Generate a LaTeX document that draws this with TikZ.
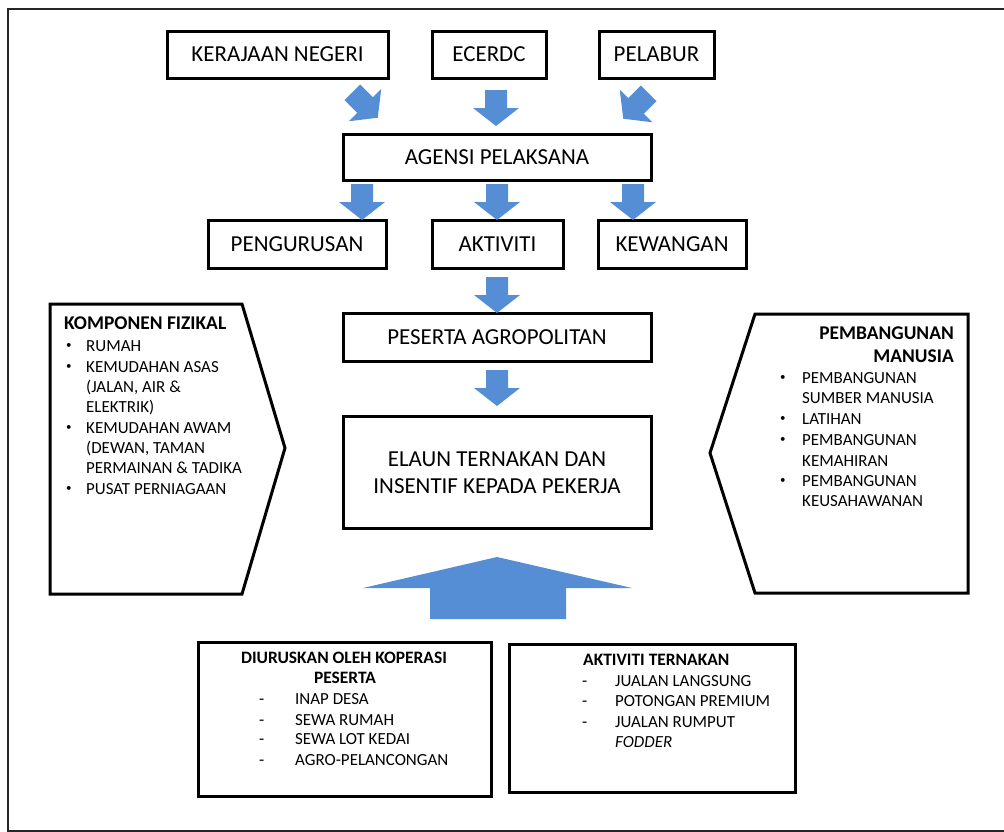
\documentclass[tikz,border=0pt]{standalone}
\usepackage{fontspec}
\setmainfont{Carlito}
\usetikzlibrary{calc}
\definecolor{ablue}{RGB}{85,142,213}
\newcommand\blockarrow[3]{\fill[ablue, shift={(#1,#2)}, rotate=#3] (-11,-18) -- (11,-18) -- (11,0) -- (23,0) -- (0,18) -- (-23,0) -- (-11,0) -- cycle;}
\begin{document}
\begin{tikzpicture}[x=1bp,y=-1bp,
  box/.style={draw, line width=3bp, rectangle, inner sep=0pt, font=\fontsize{23}{27}\selectfont, text=black},
  txt/.style={font=\fontsize{17}{20.5}\selectfont, inner sep=0pt, anchor=base west},
  bul/.style={font=\fontsize{11}{13}\selectfont, inner sep=0pt, anchor=base west},
  head/.style={font=\bfseries\fontsize{17.5}{21}\selectfont, inner sep=0pt},
  bighead/.style={font=\bfseries\fontsize{19.5}{23}\selectfont, inner sep=0pt},
  pentagon/.style={draw, line width=3bp, line join=miter}]
\useasboundingbox (0,0) rectangle (1004,832);
\draw[line width=2.5bp, black!85] (8,9) rectangle (1020,831);

% top boxes
\node[box, minimum width=221bp, minimum height=47bp] (ker) at (277.5,54.5) {KERAJAAN NEGERI};
\node[box, minimum width=114bp, minimum height=47bp] (ecer) at (489,54.5) {ECERDC};
\node[box, minimum width=115bp, minimum height=47bp] (pel) at (656.5,54.5) {PELABUR};
\node[box, minimum width=308bp, minimum height=46bp] (agensi) at (497,157) {AGENSI PELAKSANA};
\node[box, minimum width=178bp, minimum height=48bp] (peng) at (297,244) {PENGURUSAN};
\node[box, minimum width=131bp, minimum height=48bp] (akt) at (497.5,244) {AKTIVITI};
\node[box, minimum width=148bp, minimum height=48bp] (kew) at (672,244) {KEWANGAN};
\node[box, minimum width=308bp, minimum height=48bp] (pes) at (497,337) {PESERTA AGROPOLITAN};
\node[box, minimum width=308bp, minimum height=112bp] (elaun) at (497,472) {};
\node[font=\fontsize{23}{27}\selectfont, inner sep=0pt, anchor=base] (el1) at (497,466) {ELAUN TERNAKAN DAN};
\node[font=\fontsize{23}{27}\selectfont, inner sep=0pt, anchor=base] (el2) at (497,493) {INSENTIF KEPADA PEKERJA};

% block arrows
\blockarrow{365}{105}{45}
\blockarrow{496}{108}{0}
\blockarrow{636}{106}{-45}
\blockarrow{362}{202}{0}
\blockarrow{497}{202}{0}
\blockarrow{633}{202}{0}
\blockarrow{497}{295}{0}
\blockarrow{497}{388}{0}
\fill[ablue] (363,588) -- (497,557) -- (632,588) -- (566,588) -- (566,619) -- (430,619) -- (430,588) -- cycle;

% left pentagon
\draw[pentagon] (50,304) -- (242,304) -- (285,448) -- (242,594) -- (50,594) -- cycle;
\node[bighead, anchor=base west] (lh) at (64,329) {KOMPONEN FIZIKAL};
\node[txt] (lt1) at (86,351) {RUMAH};
\node[txt] (lt2) at (86,372) {KEMUDAHAN ASAS};
\node[txt] (lt3) at (86,392) {(JALAN, AIR \&};
\node[txt] (lt4) at (86,412) {ELEKTRIK)};
\node[txt] (lt5) at (86,433) {KEMUDAHAN AWAM};
\node[txt] (lt6) at (86,453) {(DEWAN, TAMAN};
\node[txt] (lt7) at (86,473) {PERMAINAN \& TADIKA};
\node[txt] (lt8) at (86,494) {PUSAT PERNIAGAAN};
\foreach \y [count=\i] in {351,372,433,494}{\node[bul] (lb\i) at (66,\y-3) {•};}

% right pentagon
\draw[pentagon] (755,314) -- (968,314) -- (968,593) -- (755,593) -- (710,453) -- cycle;
\node[bighead, anchor=base east] (rh1) at (954,339) {PEMBANGUNAN};
\node[bighead, anchor=base east] (rh2) at (954,362) {MANUSIA};
\node[txt] (rt1) at (802,383) {PEMBANGUNAN};
\node[txt] (rt2) at (802,403) {SUMBER MANUSIA};
\node[txt] (rt3) at (802,424) {LATIHAN};
\node[txt] (rt4) at (802,445) {PEMBANGUNAN};
\node[txt] (rt5) at (802,466) {KEMAHIRAN};
\node[txt] (rt6) at (802,486) {PEMBANGUNAN};
\node[txt] (rt7) at (802,506) {KEUSAHAWANAN};
\foreach \y [count=\i] in {383,424,445,486}{\node[bul] (rb\i) at (780,\y-3) {•};}

% bottom boxes
\node[draw, line width=3bp, minimum width=293bp, minimum height=154bp, inner sep=0pt] (kop) at (344.5,719) {};
\node[head, anchor=base] (kh1) at (344,663) {DIURUSKAN OLEH KOPERASI};
\node[head, anchor=base] (kh2) at (345,683) {PESERTA};
\node[txt] (kt1) at (295,704) {INAP DESA};
\node[txt] (kt2) at (295,725) {SEWA RUMAH};
\node[txt] (kt3) at (295,744) {SEWA LOT KEDAI};
\node[txt] (kt4) at (295,765) {AGRO-PELANCONGAN};
\foreach \y [count=\i] in {704,725,744,765}{\node[txt] (kd\i) at (259,\y) {-};}

\node[draw, line width=3bp, minimum width=286bp, minimum height=148bp, inner sep=0pt] (ter) at (652,718) {};
\node[head, anchor=base west] (th) at (583,665) {AKTIVITI TERNAKAN};
\node[txt] (tt1) at (615,686) {JUALAN LANGSUNG};
\node[txt] (tt2) at (615,706) {POTONGAN PREMIUM};
\node[txt] (tt3) at (615,727) {JUALAN RUMPUT};
\node[txt, font=\itshape\fontsize{17}{20.5}\selectfont] (tt4) at (615,747) {FODDER};
\foreach \y [count=\i] in {686,706,727}{\node[txt] (td\i) at (582,\y) {-};}
\end{tikzpicture}
\end{document}
